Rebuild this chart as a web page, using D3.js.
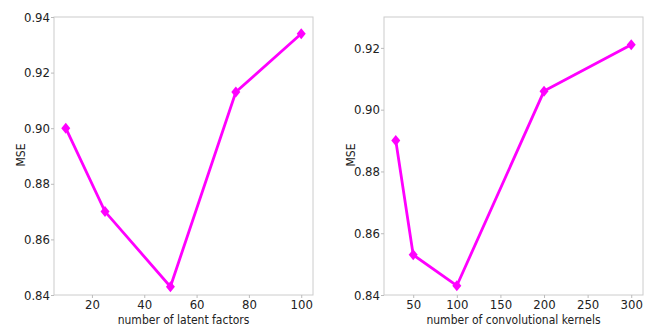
<!DOCTYPE html>
<html>
<head>
<meta charset="utf-8">
<script src="https://cdn.jsdelivr.net/npm/d3@7"></script>
<style>
  body { margin: 0; background: #fff; }
  text { font-family: "DejaVu Sans Condensed", "Liberation Sans Narrow", "DejaVu Sans", sans-serif; fill: #222; }
</style>
</head>
<body>
<svg id="chart" width="652" height="329"></svg>
<script>
// left panel: number of latent factors
var latentFactors = [10, 25, 50, 75, 100];
var latentMse = [0.900, 0.870, 0.843, 0.913, 0.934];
var latentXTicks = [20, 40, 60, 80, 100];
var latentYTicks = [0.84, 0.86, 0.88, 0.90, 0.92, 0.94];

// right panel: number of convolutional kernels
var kernels = [30, 50, 100, 200, 300];
var kernelMse = [0.890, 0.853, 0.843, 0.906, 0.921];
var kernelXTicks = [50, 100, 150, 200, 250, 300];
var kernelYTicks = [0.84, 0.86, 0.88, 0.90, 0.92];

var svg = d3.select("#chart");

function panel(opt) {
  var x = d3.scaleLinear().domain(opt.xDomain).range([opt.left, opt.right]);
  var y = d3.scaleLinear().domain(opt.yDomain).range([opt.bottom, opt.top]);
  var g = svg.append("g");

  // frame
  g.append("rect")
    .attr("x", opt.left).attr("y", opt.top)
    .attr("width", opt.right - opt.left).attr("height", opt.bottom - opt.top)
    .attr("fill", "none").attr("stroke", "#cccccc").attr("stroke-width", 1);

  var xAxis = g.append("g")
    .attr("transform", "translate(0," + opt.bottom + ")")
    .call(d3.axisBottom(x).tickValues(opt.xTicks).tickSize(3).tickPadding(2).tickFormat(d3.format("d")));
  var yAxis = g.append("g")
    .attr("transform", "translate(" + opt.left + ",0)")
    .call(d3.axisLeft(y).tickValues(opt.yTicks).tickSize(3).tickPadding(1).tickFormat(d3.format(".2f")));
  [xAxis, yAxis].forEach(function(a) {
    a.select(".domain").remove();
    a.selectAll(".tick line").attr("stroke", "#bbbbbb");
    a.selectAll(".tick text").style("font-size", "13px").attr("fill", "#1a1a1a");
  });

  var pts = opt.xs.map(function(d, i) { return [d, opt.ys[i]]; });
  g.append("path")
    .datum(pts)
    .attr("fill", "none")
    .attr("stroke", "#ff00ff")
    .attr("stroke-width", 2.8)
    .attr("d", d3.line().x(function(d) { return x(d[0]); }).y(function(d) { return y(d[1]); }));

  g.selectAll(".mk").data(pts).enter().append("path")
    .attr("class", "mk")
    .attr("transform", function(d) { return "translate(" + x(d[0]) + "," + y(d[1]) + ")"; })
    .attr("d", "M0,-5.5L4.5,0L0,5.5L-4.5,0Z")
    .attr("fill", "#ff00ff");

  g.append("text")
    .attr("x", (opt.left + opt.right) / 2).attr("y", 324)
    .attr("text-anchor", "middle").style("font-size", "12px")
    .text(opt.xLabel);
  g.append("text")
    .attr("transform", "translate(" + opt.yLabelX + ",155) rotate(-90)")
    .attr("text-anchor", "middle").style("font-size", "12px")
    .text("MSE");
}

panel({
  left: 54, right: 313, top: 17, bottom: 295,
  xDomain: [5.5, 104.5], yDomain: [0.84, 0.94],
  xs: latentFactors, ys: latentMse,
  xTicks: latentXTicks, yTicks: latentYTicks,
  xLabel: "number of latent factors", yLabelX: 25
});

panel({
  left: 384, right: 643, top: 17, bottom: 295,
  xDomain: [16.5, 313.5], yDomain: [0.84, 0.93],
  xs: kernels, ys: kernelMse,
  xTicks: kernelXTicks, yTicks: kernelYTicks,
  xLabel: "number of convolutional kernels", yLabelX: 355
});
</script>
</body>
</html>
